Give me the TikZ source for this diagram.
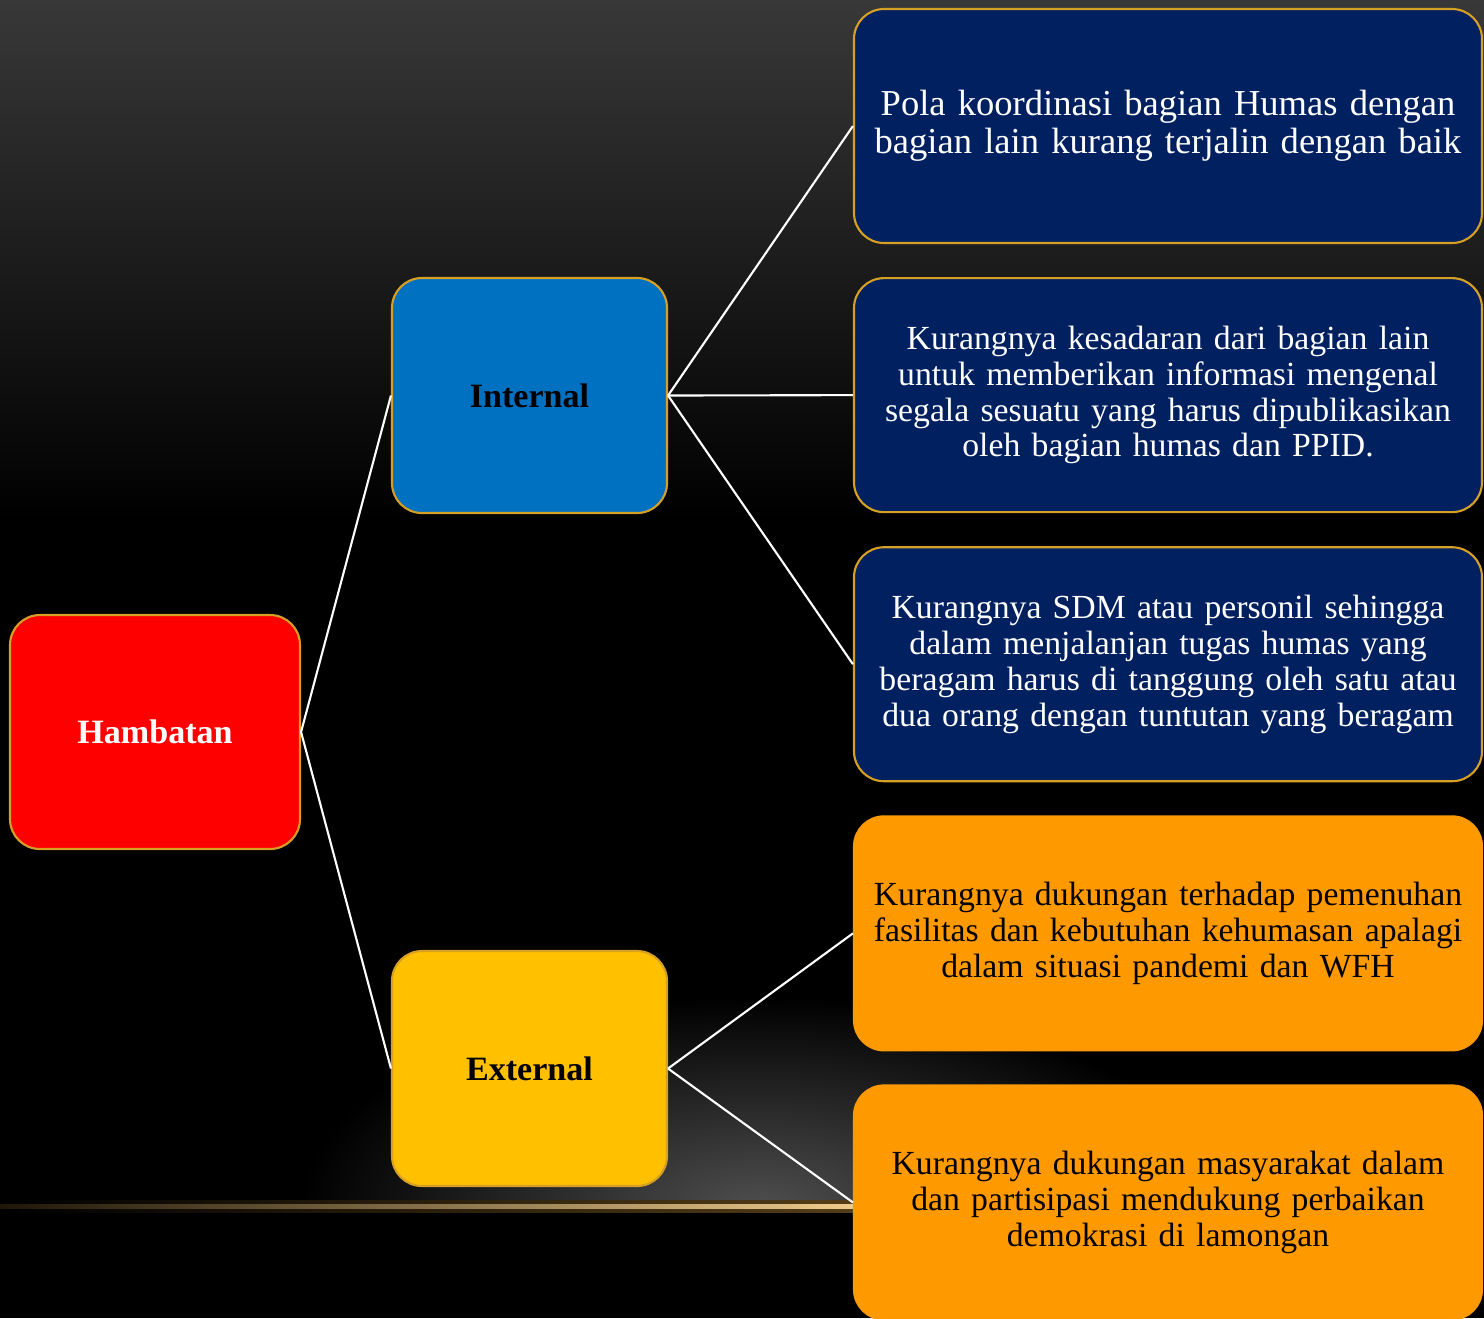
\documentclass[tikz,border=0pt]{standalone}
\usepackage{fontspec}
\setmainfont[WordSpace=0.7]{Liberation Serif}
\usepackage{tikz}
\usetikzlibrary{positioning}
\usetikzlibrary{shadings}
\definecolor{hbgold}{RGB}{214,160,36}
\definecolor{hbred}{RGB}{255,0,0}
\definecolor{hbblue}{RGB}{0,112,192}
\definecolor{hbyellow}{RGB}{255,192,0}
\definecolor{hbnavy}{RGB}{0,32,96}
\definecolor{hborange}{RGB}{255,153,0}
\tikzset{
  hbbox/.style = {rectangle, rounded corners=0.3cm, draw=hbgold,
    line width=0.6pt, align=center, inner sep=0pt},
  root/.style = {hbbox, fill=hbred, text=white, minimum width=2.9cm,
    minimum height=2.34cm, font=\fontsize{9.7pt}{10.2pt}\selectfont\bfseries},
  branch/.style = {hbbox, text=black, minimum width=2.75cm,
    minimum height=2.35cm, font=\fontsize{9.7pt}{10.2pt}\selectfont\bfseries},
  leaf_n/.style = {hbbox, fill=hbnavy, text=white, minimum width=6.28cm,
    minimum height=2.34cm, text width=6.1cm,
    font=\fontsize{9.6pt}{10.2pt}\selectfont},% daun, biru tua
  leaf_o/.style = {hbbox, fill=hborange, draw=hborange!90!hbgold, text=black,
    minimum width=6.28cm, minimum height=2.34cm, text width=6.1cm,
    font=\fontsize{9.6pt}{10.2pt}\selectfont},% daun, oranye
  link/.style = {draw=white, line width=0.6pt}
}

\begin{document}
\begin{tikzpicture}
% latar
\fill[black] (0,0) rectangle (14.84,-13.18);
\shade[top color={rgb,255:red,56;green,56;blue,56}, bottom color=black]
  (0,0) rectangle (14.84,-5.2);
\begin{scope}
  \clip (0,-12.07) rectangle (14.84,-8);
  \shade[inner color={rgb,255:red,78;green,78;blue,78}, outer color=black]
    (7.6,-12.07) ellipse (4.6 and 2.1);
\end{scope}
\shade[left color=black, right color={rgb,255:red,85;green,62;blue,25}]
  (0,-12.0) rectangle (8.6,-12.12);
\shade[left color={rgb,255:red,30;green,22;blue,8}, right color={rgb,255:red,240;green,205;blue,140}]
  (0,-12.04) rectangle (8.6,-12.08);
\useasboundingbox (0,0) rectangle (14.84,-13.18);

% pohon
\node [root] (hambatan) at (1.55,-7.32) {Hambatan};
\node [branch, fill=hbblue] (internal) at (5.295,-3.955) {Internal};
\node [branch, fill=hbyellow] (external) at (5.295,-10.685) {External};

\node [leaf_n, font=\fontsize{10.4pt}{10.8pt}\selectfont] (koordinasi) at (11.68,-1.26)
  {Pola koordinasi bagian Humas dengan\\bagian lain kurang terjalin dengan baik};
\node [leaf_n, below=0.33cm of koordinasi] (kesadaran)
  {Kurangnya kesadaran dari bagian lain\\untuk memberikan informasi mengenal\\segala sesuatu yang harus dipublikasikan\\oleh bagian humas dan PPID.};
\node [leaf_n, below=0.33cm of kesadaran] (sdm)
  {Kurangnya SDM atau personil sehingga\\dalam menjalanjan tugas humas yang\\beragam harus di tanggung oleh satu atau\\dua orang dengan tuntutan yang beragam};
\node [leaf_o, below=0.33cm of sdm] (fasilitas)
  {Kurangnya dukungan terhadap pemenuhan\\fasilitas dan kebutuhan kehumasan apalagi\\dalam situasi pandemi dan WFH};
\node [leaf_o, below=0.33cm of fasilitas] (masyarakat)
  {Kurangnya dukungan masyarakat dalam\\dan partisipasi mendukung perbaikan\\demokrasi di lamongan};

% garis
\draw[link] (hambatan.east) -- (internal.west);
\draw[link] (hambatan.east) -- (external.west);
\foreach \leaf in {koordinasi,kesadaran,sdm}
  \draw[link] (internal.east) -- (\leaf.west);
\foreach \leaf in {fasilitas,masyarakat}
  \draw[link] (external.east) -- (\leaf.west);
\end{tikzpicture}
\end{document}
